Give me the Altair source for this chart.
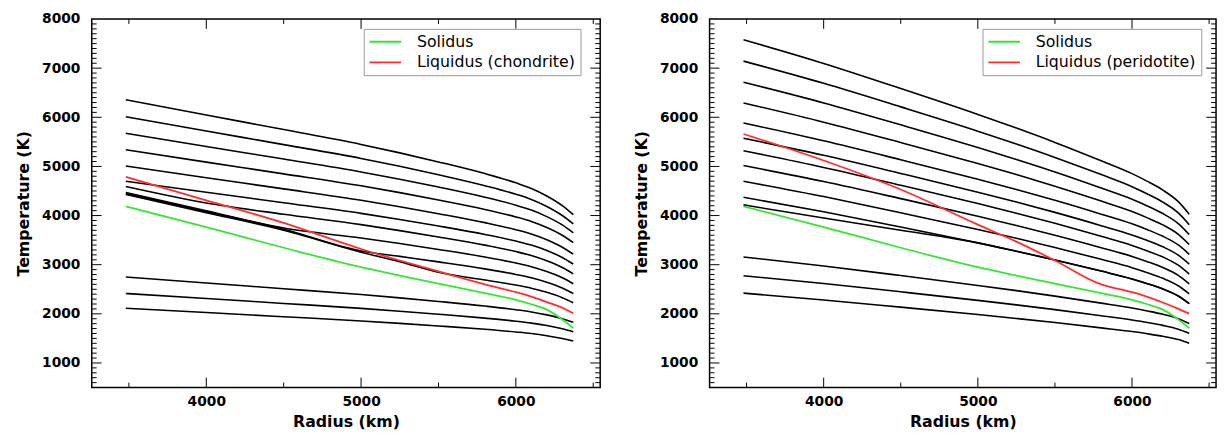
import altair as alt
import pandas as pd

# ---------------- data ----------------
R = [3480, 4000, 4500, 5000, 5250, 5500, 5800, 6000, 6100, 6200, 6300, 6371]

# left panel: chondritic liquidus
CH_1 = [6357, 6046, 5750, 5448, 5276, 5092, 4854, 4666, 4552, 4399, 4202, 4018]
CH_2 = [6010, 5720, 5444, 5163, 5003, 4831, 4608, 4434, 4327, 4185, 4001, 3830]
CH_3 = [5675, 5405, 5150, 4888, 4739, 4580, 4373, 4211, 4112, 3979, 3809, 3649]
CH_4 = [5340, 5088, 4849, 4605, 4467, 4318, 4125, 3973, 3881, 3758, 3599, 3450]
CH_5 = [5008, 4769, 4543, 4311, 4180, 4038, 3856, 3712, 3624, 3507, 3356, 3215]
CH_6 = [4700, 4475, 4262, 4045, 3921, 3788, 3616, 3481, 3399, 3289, 3147, 3014]
CH_7 = [4590, 4255, 4026, 3815, 3694, 3565, 3398, 3267, 3187, 3080, 2942, 2813]
CH_8 = [4470, 4100, 3745, 3543, 3431, 3311, 3156, 3034, 2960, 2861, 2733, 2613]
CH_9 = [4450, 4080, 3722, 3280, 3169, 3058, 2915, 2802, 2734, 2642, 2524, 2413]
CH_10 = [4430, 4060, 3700, 3255, 3060, 2848, 2689, 2585, 2522, 2437, 2328, 2226]
CH_11 = [2750, 2627, 2511, 2392, 2325, 2252, 2158, 2084, 2039, 1979, 1902, 1829]
CH_12 = [2415, 2311, 2212, 2111, 2054, 1992, 1912, 1850, 1811, 1761, 1695, 1633]
CH_13 = [2115, 2026, 1941, 1855, 1806, 1753, 1685, 1631, 1599, 1555, 1498, 1446]
LIQ_CH = [4788, 4310, 3850, 3320, 3085, 2863, 2600, 2440, 2350, 2240, 2125, 2011]

# right panel: peridotitic liquidus
PE_1 = [7578, 7096, 6585, 6058, 5780, 5489, 5115, 4853, 4695, 4518, 4283, 4028]
PE_2 = [7143, 6691, 6212, 5718, 5457, 5184, 4834, 4588, 4440, 4274, 4054, 3814]
PE_3 = [6714, 6293, 5847, 5386, 5143, 4889, 4562, 4333, 4196, 4041, 3836, 3613]
PE_4 = [6292, 5901, 5487, 5059, 4834, 4597, 4294, 4082, 3953, 3810, 3619, 3412]
PE_5 = [5884, 5521, 5136, 4739, 4530, 4311, 4029, 3832, 3713, 3579, 3402, 3211]
PE_6 = [5574, 5226, 4857, 4476, 4275, 4065, 3795, 3606, 3492, 3364, 3194, 3010]
PE_7 = [5319, 4979, 4617, 4245, 4048, 3842, 3578, 3393, 3281, 3156, 2990, 2809]
PE_8 = [5019, 4692, 4345, 3987, 3798, 3601, 3347, 3169, 3062, 2942, 2782, 2609]
PE_9 = [4698, 4387, 4057, 3717, 3538, 3350, 3109, 2940, 2838, 2723, 2572, 2407]
PE_10 = [4371, 4077, 3766, 3444, 3275, 3097, 2870, 2710, 2613, 2505, 2362, 2206]
PE_11 = [4217, 3950, 3700, 3444, 3275, 3097, 2870, 2710, 2613, 2505, 2362, 2206]
PE_12 = [3157, 2973, 2779, 2578, 2472, 2361, 2218, 2118, 2058, 1990, 1901, 1804]
PE_13 = [2776, 2617, 2448, 2274, 2182, 2086, 1962, 1875, 1824, 1765, 1687, 1603]
PE_14 = [2421, 2283, 2136, 1985, 1905, 1822, 1714, 1639, 1594, 1543, 1476, 1402]
LIQ_PE = [5660, 5120, 4530, 3815, 3470, 3085, 2598, 2440, 2345, 2230, 2100, 2005]

SOLIDUS = [4186, 3766, 3345, 2950, 2780, 2613, 2420, 2285, 2195, 2085, 1885, 1710]

LABEL_SOL = "Solidus"
LABEL_CH = "Liquidus (chondrite)"
LABEL_PE = "Liquidus (peridotite)"

X_DOMAIN = [3260, 6545]
Y_DOMAIN = [500, 8000]
X_LABELS = [4000, 5000, 6000]
Y_LABELS = [1000, 2000, 3000, 4000, 5000, 6000, 7000, 8000]
X_MINOR = [3500, 4500, 5500, 6500]
X_MAJOR = [4000, 5000, 6000]
Y_MINOR = [v for v in range(600, 8000, 100) if v % 1000 != 0]
Y_MAJOR = [1000, 2000, 3000, 4000, 5000, 6000, 7000]

GREEN = "#36e436"
RED = "#ff2e2e"
FONT = "DejaVu Sans"
H = 374


def panel(curves, liq, liq_label, width, legend_x):
    rows = []
    for i, c in enumerate(curves):
        for r, t in zip(R, c):
            rows.append({"r": r, "T": t, "id": i})
    black_df = pd.DataFrame(rows)
    sol_df = pd.DataFrame({"r": R, "T": SOLIDUS, "name": LABEL_SOL})
    liq_df = pd.DataFrame({"r": R, "T": liq, "name": liq_label})

    xs = alt.Scale(domain=X_DOMAIN, nice=False, zero=False)
    ys = alt.Scale(domain=Y_DOMAIN, nice=False, zero=False)
    xaxis = alt.Axis(values=X_LABELS, ticks=False, tickSize=0, domain=False, grid=False,
                     labelPadding=7, labelFont=FONT, labelFontSize=14, labelFontWeight="bold",
                     labelColor="black", title="Radius (km)", titleFont=FONT, titleFontSize=16,
                     titleFontWeight="bold", titleColor="black", titlePadding=6, format="d")
    yaxis = alt.Axis(values=Y_LABELS, ticks=False, tickSize=0, domain=False, grid=False,
                     labelPadding=12, labelFont=FONT, labelFontSize=14, labelFontWeight="bold",
                     labelColor="black", title="Temperature (K)", titleFont=FONT, titleFontSize=16,
                     titleFontWeight="bold", titleColor="black", titlePadding=10, format="d")

    legend = alt.Legend(title=None, orient="none", legendX=legend_x, legendY=10,
                        symbolType="stroke", symbolSize=1024, symbolStrokeWidth=2,
                        clipHeight=16, labelFont=FONT, labelFontSize=16, labelColor="black",
                        labelFontWeight="normal", padding=5, rowPadding=5, labelOffset=15,
                        strokeColor="#9a9a9a", fillColor="white", labelLimit=400,
                        labelExpr="datum.label + '\u00a0\u00a0\u00a0'")
    color = alt.Color("name:N", scale=alt.Scale(domain=[LABEL_SOL, liq_label], range=[GREEN, RED]),
                      legend=legend)

    X = lambda f: alt.X(f, scale=xs, axis=xaxis)
    Y = lambda f: alt.Y(f, scale=ys, axis=yaxis)

    black = alt.Chart(black_df).mark_line(color="black", strokeWidth=1.6, interpolate="monotone").encode(
        x=X("r:Q"), y=Y("T:Q"), detail="id:N")
    green = alt.Chart(sol_df).mark_line(strokeWidth=1.8, interpolate="monotone").encode(
        x=X("r:Q"), y=Y("T:Q"), color=color)
    red = alt.Chart(liq_df).mark_line(strokeWidth=1.8, interpolate="monotone").encode(
        x=X("r:Q"), y=Y("T:Q"), color=color)

    layers = [black, green, red]
    for vals, ln in [(Y_MINOR, 5), (Y_MAJOR, 10)]:
        df = pd.DataFrame({"v": vals})
        for x0, x1 in [(0, ln), (width, width - ln)]:
            layers.append(alt.Chart(df).mark_rule(color="black", strokeWidth=1).encode(
                y=Y("v:Q"), x=alt.value(x0), x2=alt.value(x1)))
    for vals, ln in [(X_MINOR, 5), (X_MAJOR, 10)]:
        df = pd.DataFrame({"v": vals})
        for y0, y1 in [(H, H - ln), (0, ln)]:
            layers.append(alt.Chart(df).mark_rule(color="black", strokeWidth=1).encode(
                x=X("v:Q"), y=alt.value(y0), y2=alt.value(y1)))
    return alt.layer(*layers).properties(width=width, height=H)


left = panel([CH_1, CH_2, CH_3, CH_4, CH_5, CH_6, CH_7, CH_8, CH_9, CH_10, CH_11, CH_12, CH_13],
             LIQ_CH, LABEL_CH, 516, 276)
right = panel([PE_1, PE_2, PE_3, PE_4, PE_5, PE_6, PE_7, PE_8, PE_9, PE_10, PE_11, PE_12, PE_13, PE_14],
              LIQ_PE, LABEL_PE, 514, 277)

chart = alt.hconcat(left, right, spacing=31).resolve_scale(color="independent").properties(
    padding={"left": 7, "top": 0, "right": 1, "bottom": 2}
).configure(background="white").configure_view(stroke="black", strokeWidth=1.5)

chart.save("out.html", embed_options={"renderer": "svg", "actions": False})
